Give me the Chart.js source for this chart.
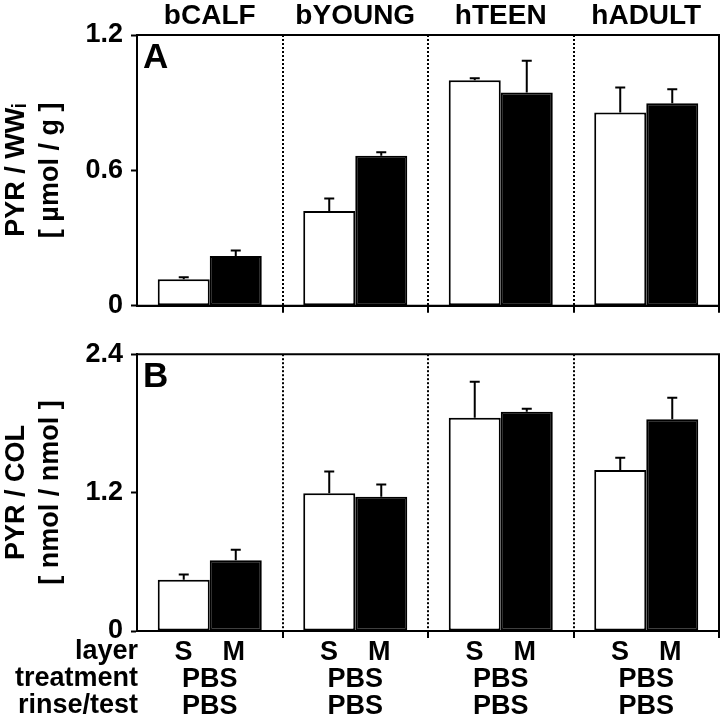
<!DOCTYPE html>
<html>
<head>
<meta charset="utf-8">
<script src="https://cdn.jsdelivr.net/npm/chart.js@4/dist/chart.umd.min.js"></script>
<style>
  body { margin: 0; background: #fff; }
  #wrap { position: relative; width: 724px; height: 726px; }
  #chartA { position: absolute; left: 0; top: 0; }
  #chartB { position: absolute; left: 0; top: 330px; }
</style>
</head>
<body>
<div id="wrap">
  <canvas id="chartA" width="724" height="330"></canvas>
  <canvas id="chartB" width="724" height="396"></canvas>
</div>
<script>
// groups and row labels
const groups = ['bCALF', 'bYOUNG', 'hTEEN', 'hADULT'];
const layers = ['S', 'M'];
const treatment = ['PBS', 'PBS', 'PBS', 'PBS'];
const rinseTest = ['PBS', 'PBS', 'PBS', 'PBS'];
const rowNames = ['layer', 'treatment', 'rinse/test'];

// panel A - PYR / WWi  [umol / g]
const wwS = [0.118, 0.42, 1.00, 0.857];
const wwSerr = [0.009, 0.055, 0.008, 0.11];
const wwM = [0.221, 0.665, 0.945, 0.898];
const wwMerr = [0.024, 0.015, 0.141, 0.062];
const ticksA = [0, 0.6, 1.2];

// panel B - PYR / COL  [nmol / nmol]
const colS = [0.444, 1.194, 1.848, 1.395];
const colSerr = [0.046, 0.19, 0.314, 0.108];
const colM = [0.614, 1.163, 1.901, 1.836];
const colMerr = [0.091, 0.108, 0.026, 0.187];
const ticksB = [0, 1.2, 2.4];

const FONT = '"Liberation Sans", Arial, sans-serif';

// error bars (upward only) + frame + panel letter
const extras = {
  id: 'extras',
  afterDatasetsDraw(chart, args, opts) {
    const ctx = chart.ctx;
    const y = chart.scales.y;
    ctx.save();
    ctx.strokeStyle = '#000';
    ctx.lineWidth = 2;
    ctx.setLineDash([]);
    chart.data.datasets.forEach((ds, i) => {
      const meta = chart.getDatasetMeta(i);
      meta.data.forEach((bar, j) => {
        const top = y.getPixelForValue(ds.data[j] + ds.err[j]);
        ctx.beginPath();
        ctx.moveTo(bar.x, bar.y);
        ctx.lineTo(bar.x, top);
        ctx.moveTo(bar.x - 5, top);
        ctx.lineTo(bar.x + 5, top);
        ctx.stroke();
      });
    });
    ctx.restore();
  },
  afterDraw(chart, args, opts) {
    const ctx = chart.ctx;
    const a = chart.chartArea;
    ctx.save();
    ctx.strokeStyle = '#000';
    ctx.lineWidth = 2;
    ctx.setLineDash([]);
    // full frame, solid
    ctx.beginPath();
    ctx.moveTo(a.left, a.top);
    ctx.lineTo(a.right, a.top);
    ctx.lineTo(a.right, a.bottom);
    ctx.lineTo(a.left, a.bottom);
    ctx.stroke();
    ctx.fillStyle = '#000';
    ctx.font = 'bold 35px ' + FONT;
    ctx.textBaseline = 'alphabetic';
    ctx.textAlign = 'left';
    ctx.fillText(opts.letter, a.left + 6, a.top + 33);
    // row names under panel B
    if (opts.rows) {
      ctx.font = 'bold 27px ' + FONT;
      ctx.textAlign = 'right';
      ctx.textBaseline = 'middle';
      opts.rows.forEach((r, k) => {
        ctx.fillText(r, a.left + 1, a.bottom + 21 + k * 27);
      });
    }
    ctx.restore();
  }
};

function yScale(max, ticks, title) {
  return {
    min: 0, max: max,
    afterFit: (axis) => { axis.width = 137; },
    afterBuildTicks: (axis) => { axis.ticks = ticks.map(v => ({ value: v })); },
    ticks: {
      color: '#000', padding: 8,
      font: { family: FONT, size: 27, weight: 'bold' },
      callback: (v) => String(v)
    },
    grid: { drawOnChartArea: false, drawTicks: true, tickLength: 6, tickColor: '#000', tickWidth: 2 },
    border: { display: true, color: '#000', width: 2 },
    title: {
      display: true, text: title, color: '#000',
      padding: { top: 0, bottom: 0 },
      font: { family: FONT, size: 27, weight: 'bold', lineHeight: 1.26 }
    }
  };
}

function xGrid() {
  return {
    offset: true, color: '#000', lineWidth: 2,
    drawOnChartArea: true, drawTicks: true, tickLength: 7,
    tickBorderDash: [], tickBorderDashOffset: 0, tickWidth: 2,
    tickColor: (c) => c.index === 0 ? 'rgba(0,0,0,0)' : '#000'
  };
}

function barSets(s, sErr, m, mErr) {
  return [
    { label: layers[0], data: s, err: sErr, backgroundColor: '#fff', borderColor: '#000', borderWidth: 2, borderSkipped: false },
    { label: layers[1], data: m, err: mErr, backgroundColor: '#000', borderColor: '#000', borderWidth: 2, borderSkipped: false }
  ];
}

const common = {
  responsive: false,
  animation: false,
  devicePixelRatio: 1,
  categoryPercentage: 0.715,
  barPercentage: 1.0,
  plugins: { legend: { display: false }, tooltip: { enabled: false } }
};

new Chart(document.getElementById('chartA'), {
  type: 'bar',
  data: { labels: groups, datasets: barSets(wwS, wwSerr, wwM, wwMerr) },
  plugins: [extras],
  options: Object.assign({}, common, {
    layout: { padding: { left: 0, right: 5, top: 0, bottom: 0 } },
    plugins: Object.assign({}, common.plugins, { extras: { letter: 'A' } }),
    scales: {
      x: {
        position: 'bottom',
        afterFit: (axis) => { axis.height = 13; },
        ticks: { display: false },
        grid: xGrid(),
        border: { display: true, color: '#000', width: 2, dash: [2, 2] }
      },
      xTop: {
        type: 'category', position: 'top', labels: groups, offset: true,
        afterFit: (axis) => { axis.height = 35; },
        ticks: { color: '#000', padding: 2, font: { family: FONT, size: 28, weight: 'bold' } },
        grid: { display: false, drawTicks: false },
        border: { display: false }
      },
      y: yScale(1.2, ticksA, ['PYR / WW\u1d62', '[ \u00b5mol / g ]'])
    }
  })
});

new Chart(document.getElementById('chartB'), {
  type: 'bar',
  data: { labels: groups, datasets: barSets(colS, colSerr, colM, colMerr) },
  plugins: [extras],
  options: Object.assign({}, common, {
    layout: { padding: { left: 0, right: 5, top: 18, bottom: 0 } },
    plugins: Object.assign({}, common.plugins, { extras: { letter: 'B', rows: rowNames } }),
    scales: {
      x: {
        position: 'bottom',
        afterFit: (axis) => { axis.height = 95; },
        ticks: {
          color: '#000', padding: 1, maxRotation: 0, autoSkip: false,
          font: { family: FONT, size: 27, weight: 'bold', lineHeight: 1.0 },
          callback: (v, i) => [layers.join('    '), treatment[i], rinseTest[i]]
        },
        grid: xGrid(),
        border: { display: true, color: '#000', width: 2, dash: [2, 2] }
      },
      y: yScale(2.4, ticksB, ['PYR / COL', '[ nmol / nmol ]'])
    }
  })
});
</script>
</body>
</html>
